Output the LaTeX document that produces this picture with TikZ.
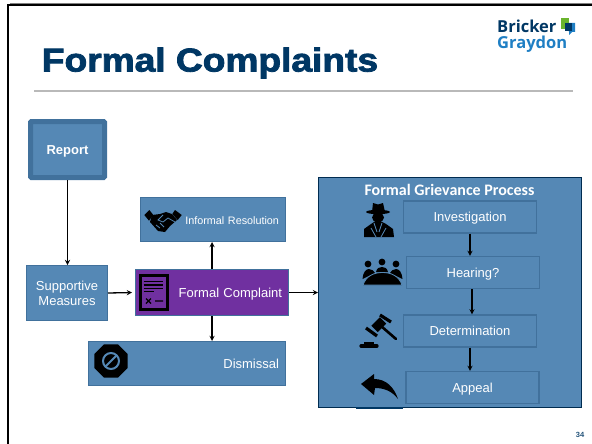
\documentclass[tikz,border=0pt]{standalone}
\usepackage{fontspec}
\setmainfont{Liberation Sans}
\newfontfamily\titlefont[FakeBold=2.4]{Liberation Sans Bold}
\newfontfamily\headfont{Carlito}
\newfontfamily\logofont{Open Sans}
\usetikzlibrary{shapes.geometric}
\definecolor{boxblue}{HTML}{5588B5}
\definecolor{edgeblue}{HTML}{41719C}
\definecolor{navy}{HTML}{003764}
\definecolor{purplebox}{HTML}{7030A0}
\definecolor{logoblue}{HTML}{1F7FC4}
\definecolor{logogreen}{HTML}{6AB42D}
\tikzset{
	box/.style={draw=edgeblue,fill=boxblue,line width=1pt,text=white,font=\fontsize{13}{14.7}\selectfont,align=center,inner sep=0pt},
	oneline/.style={text height=9pt,text depth=0pt},
	rightbox/.style={box,oneline,align=right,inner xsep=6.5pt},
	stepbox/.style={box,oneline,line width=1.2pt,minimum width=133pt,minimum height=32pt},
	arrow/.style={->,>=stealth,line width=1.3pt,black},
	iconline/.style={draw=boxblue,line width=0.8pt}
}
\begin{document}
\begin{tikzpicture}[x=1pt,y=-1pt]
			\useasboundingbox (0,0) rectangle (592,444);
			% slide frame and title
			\draw[gray,line width=0.6pt] (9.6,3.3) -- (592,3.3);
			\draw[black,line width=2pt] (8.3,444) -- (8.3,5) -- (592,5);
			\node[text=navy,font=\titlefont\fontsize{33}{33}\selectfont,xscale=1.125,inner sep=0pt] (title)at(210,63) {Formal Complaints};
			\draw[gray!55,line width=1.2pt] (34,91) -- (573,91);
			% logo
			\node[text=navy,font=\logofont\bfseries\fontsize{16.5}{16.5}\selectfont,anchor=west,inner sep=0pt] (bricker)at(497,26.5) {Bricker};
			\node[text=logoblue,font=\logofont\bfseries\fontsize{16.5}{16.5}\selectfont,anchor=west,inner sep=0pt] (graydon)at(497,44) {Graydon};
			\fill[logogreen] (561,18) rectangle (568.5,29);
			\fill[logoblue] (568,23) -- (575,23) -- (575,32) -- (572,32) -- (569,35) -- (569,32) -- cycle;
			\fill[navy] (565,23) rectangle (572,31);
			% boxes
			\node[box,oneline,line width=5pt,rounded corners=1pt,font=\bfseries\fontsize{13}{14}\selectfont,minimum width=74pt,minimum height=56pt] (report)at(67.5,149.5) {Report};
			\node[box,text depth=0pt,minimum width=81pt,minimum height=55pt] (supportive)at(67,293) {Supportive\\Measures};
			\node[rightbox,font=\fontsize{10.8}{12}\selectfont,text width=132pt,minimum height=44pt] (informal)at(213,219.5) {Informal Resolution};
			\node[rightbox,fill=purplebox,text width=140pt,minimum height=46pt] (complaint)at(212,292.5) {Formal Complaint};
			\node[rightbox,text width=184pt,minimum height=44pt] (dismissal)at(187,363.5) {Dismissal};
			\node[box,draw=navy!80!black,minimum width=263pt,minimum height=230pt] (process)at(450,292.5) {};
			\node[text=white,font=\headfont\bfseries\fontsize{16}{16}\selectfont,inner sep=0pt] (processtitle)at(449.5,190) {Formal Grievance Process};
			\node[stepbox] (investigation)at(470,217) {Investigation};
			\node[stepbox] (hearing)at(473,272.5) {Hearing?};
			\node[stepbox] (determination)at(470,331) {Determination};
			\node[stepbox] (appeal)at(472.5,387.5) {Appeal};
			% connectors
			\draw[arrow] (report.south) -- (report.south |- supportive.north);
			\draw[arrow,shorten >=3pt] (supportive.east) -- (complaint.west);
			\draw[arrow] (complaint.north) -- (complaint.north |- informal.south);
			\draw[arrow] (complaint.south) -- (complaint.south |- dismissal.north);
			\draw[arrow] (complaint.east) -- (complaint.east -| process.west);
			\draw[arrow] (investigation.south) -- (investigation.south |- hearing.north);
			\draw[arrow] ([xshift=-1pt]hearing.south) -- ([xshift=-1pt]hearing.south |- determination.north);
			\draw[arrow] (determination.south) -- (determination.south |- appeal.north);
			% handshake
			\fill[black] (144.3,215) -- (149.3,210) -- (153.3,215) -- (149,220.7) -- cycle;
			\fill[black] (175,210) -- (181.7,215) -- (177.7,220) -- (172.3,214) -- cycle;
			\fill[black] (152,215) -- (160,214) -- (166,212) -- (172,214) -- (177,220) -- (170,226) -- (165,232) -- (158,231) -- (150,222) -- cycle;
			\draw[iconline] (163,215) -- (158,220) -- (163,222) -- (168,218) -- (175,222);
			\draw[iconline] (156,225) -- (160,228) (160,223) -- (164,227);
			% document
			\draw[black,line width=3pt] (140.5,275.5) rectangle (167,309);
			\foreach \y/\xend in {281.7/163,285/163,288.3/163,291.7/154}
				\draw[black,line width=1.3pt] (143.5,\y) -- (\xend,\y);
			\draw[black,line width=1.3pt] (146,298.5) -- (151,303.5) (146,303.5) -- (151,298.5) (155,301) -- (163,301);
			% stop sign
			\node[regular polygon,regular polygon sides=8,fill=black,minimum size=36pt,inner sep=0pt] (stopicon)at(111,361) {};
			\draw[iconline,line width=2pt] (stopicon.center) circle (8pt);
			\draw[iconline,line width=2pt] (105.5,366.5) -- (116.5,355.5);
			% detective
			\fill[black] (372,212) -- (373,203) -- (378,204.5) -- (383,203) -- (385,212) -- cycle;
			\fill[black] (378,212) ellipse (12pt and 2.2pt);
			\fill[black] (378,217.5) ellipse (6pt and 5pt);
			\fill[black] (364,237) -- (364,229) -- (371,224) -- (374,222) -- (382,222) -- (386,224) -- (393,229) -- (394,237) -- cycle;
			\draw[iconline] (374,223) -- (377,232) (382,223) -- (379,232) (371,228) -- (376,237) (386,228) -- (381,237);
			% people at a table
			\foreach \x/\y in {368/264,382/262,396/264}
				\fill[black] (\x,\y) circle (3.4pt);
			\fill[black] (362.5,279) .. controls (363,272) and (366,269) .. (369,269) .. controls (372,269) and (374,271) .. (375,273) -- cycle;
			\fill[black] (402.5,279) .. controls (402,272) and (399,269) .. (396,269) .. controls (393,269) and (391,271) .. (390,273) -- cycle;
			\fill[black] (376,272) .. controls (377,268) and (379,267) .. (382,267) .. controls (385,267) and (387,268) .. (388,272) -- cycle;
			\fill[black,draw=boxblue,line width=0.8pt] (363,285) .. controls (366,276) and (374,272.5) .. (382.5,272.5) .. controls (391,272.5) and (399,276) .. (402,285) -- cycle;
			% gavel
			\draw[black,line width=3.2pt] (366,328) -- (377,336);
			\draw[black,line width=3.2pt] (380,315) -- (391,322);
			\draw[black,line width=9pt] (374.5,329) -- (383,320.5);
			\draw[black,line width=2.6pt,line cap=round] (381,326) -- (396,339);
			\draw[black,line width=3.2pt,line cap=round] (361,346) -- (377,346);
			\draw[black,line width=1.6pt] (364,343) -- (374,343);
			% reply arrow
			\fill[black] (361,384) -- (374,374) -- (374,379) .. controls (386,379) and (394,387) .. (398,399) .. controls (392,391) and (384,388) .. (375,388) -- (374,395) -- cycle;
			\draw[navy,line width=1.5pt] (356,408) -- (403,408);
			% page number
			\node[text=navy!85!white,font=\bfseries\fontsize{7.5}{8}\selectfont,inner sep=0pt] (pagenumber)at(580,435) {34};
		\end{tikzpicture}
\end{document}
